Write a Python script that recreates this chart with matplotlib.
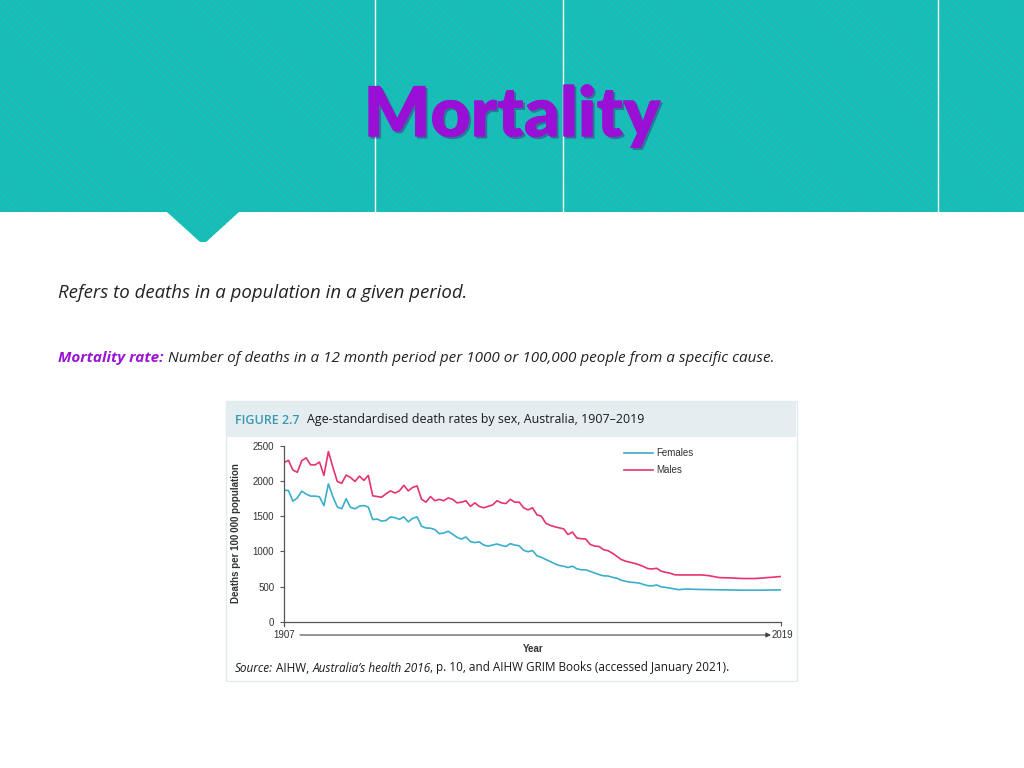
import numpy as np
import matplotlib
matplotlib.use('Agg')
import matplotlib.pyplot as plt
from matplotlib.patches import Rectangle, Polygon
import matplotlib.patheffects as pe

# ---------------- data ----------------
years = list(range(1907, 2020))
females = [
    1871, 1865, 1714, 1760, 1857, 1815, 1786, 1786, 1776, 1650,   # 1907-1916
    1960, 1780, 1634, 1605, 1748, 1625, 1605, 1643, 1652, 1630,   # 1917-1926
    1452, 1460, 1430, 1440, 1490, 1480, 1455, 1490, 1420, 1470,   # 1927-1936
    1490, 1357, 1333, 1330, 1310, 1252, 1260, 1286, 1245, 1200,   # 1937-1946
    1175, 1205, 1140, 1125, 1135, 1090, 1075, 1090, 1105, 1085,   # 1947-1956
    1070, 1110, 1090, 1080, 1015, 995, 1012, 938, 915, 885,       # 1957-1966
    855, 825, 800, 790, 770, 790, 752, 738, 738, 715,             # 1967-1976
    692, 670, 652, 650, 632, 619, 590, 574, 562, 557,             # 1977-1986
    550, 530, 512, 510, 522, 495, 488, 478, 465, 455,             # 1987-1996
    462, 465, 462, 460, 458, 457, 456, 455, 454, 453,             # 1997-2006
    452, 451, 450, 449, 448, 448, 448, 448, 449, 450,             # 2007-2016
    451, 452, 452,                                                # 2017-2019
]
males = [
    2263, 2295, 2157, 2125, 2290, 2330, 2230, 2230, 2270, 2080,   # 1907-1916
    2420, 2200, 1995, 1967, 2085, 2050, 1995, 2070, 2010, 2080,   # 1917-1926
    1790, 1780, 1770, 1820, 1860, 1830, 1860, 1940, 1860, 1910,   # 1927-1936
    1930, 1740, 1700, 1780, 1720, 1740, 1720, 1760, 1740, 1690,   # 1937-1946
    1700, 1720, 1640, 1690, 1640, 1620, 1640, 1660, 1720, 1690,   # 1947-1956
    1680, 1740, 1700, 1700, 1620, 1590, 1620, 1520, 1500, 1400,   # 1957-1966
    1370, 1350, 1335, 1320, 1240, 1275, 1190, 1180, 1175, 1100,   # 1967-1976
    1075, 1070, 1025, 1010, 975, 930, 885, 860, 845, 830,         # 1977-1986
    810, 785, 755, 750, 760, 718, 702, 690, 668, 665,             # 1987-1996
    665, 665, 665, 665, 665, 660, 652, 640, 628, 625,             # 1997-2006
    624, 622, 618, 615, 614, 614, 614, 618, 622, 628,             # 2007-2016
    632, 638, 643,                                                # 2017-2019
]
series_labels = ['Females', 'Males']
y_ticks = [0, 500, 1000, 1500, 2000, 2500]
x_end_labels = ['1907', '2019']

slide_title = 'Mortality'
intro_text = 'Refers to deaths in a population in a given period.'
def_term = 'Mortality rate:'
def_text = ' Number of deaths in a 12 month period per 1000 or 100,000 people from a specific cause.'
fig_num = 'FIGURE 2.7'
fig_title = 'Age-standardised death rates by sex, Australia, 1907\u20132019'
y_label = 'Deaths per 100\u2009000 population'
x_label = 'Year'

# ---------------- figure ----------------
fig = plt.figure(figsize=(10.24, 7.68), dpi=100)
fig.patch.set_facecolor('white')
bg = fig.add_axes([0, 0, 1, 1])
bg.set_xlim(0, 1024)
bg.set_ylim(768, 0)
bg.axis('off')

teal = '#10c3b4'
stripe = '#26b4bb'
header = Rectangle((0, 0), 1024, 212, facecolor=teal, edgecolor='none', zorder=1)
notch = Polygon([(166, 211), (240, 211), (206, 242), (200, 242)],
                closed=True, facecolor=teal, edgecolor='none', zorder=1)
bg.add_patch(header)
bg.add_patch(notch)
# diagonal stripe texture
step = 6.5
for clip in (header, notch):
    for x0 in np.arange(-260, 1030, step):
        ln, = bg.plot([x0, x0 + 260], [0, 260], color=stripe, lw=1.3,
                      solid_capstyle='butt', zorder=1.5)
        ln.set_clip_path(clip)
for xv in (375, 563, 938):
    bg.plot([xv, xv], [0, 212], color='white', lw=1.0, zorder=2)

bg.text(512, 117, slide_title, ha='center', va='center', fontsize=50,
        fontweight='heavy', family='Lato', color='#9a0fd6', zorder=3,
        path_effects=[pe.withSimplePatchShadow(offset=(1.5, -1.5),
                                               shadow_rgbFace='#4a0a70', alpha=0.4),
                      pe.Normal()])

renderer = fig.canvas.get_renderer()

def seq(x, y, parts, **common):
    for s, kw in parts:
        t = bg.text(x, y, s, **common, **kw)
        bb = t.get_window_extent(renderer)
        x = bb.x1
    return x

bg.text(58, 293, intro_text, ha='left', va='center', fontsize=13.4,
        style='italic', family='Open Sans', color='#222222')

seq(58, 358, [(def_term, dict(color='#9a14d4', fontweight='bold')),
              (def_text, dict(color='#222222'))],
    ha='left', va='center', fontsize=10.95, style='italic', family='Open Sans')

# panel
bg.add_patch(Rectangle((226, 401), 571, 280, facecolor='white',
                       edgecolor='#e3eaec', lw=1.0, zorder=1))
bg.add_patch(Rectangle((227, 402), 569, 35, facecolor='#e4eef1',
                       edgecolor='none', zorder=1))
bg.text(235, 420, fig_num, ha='left', va='center', fontsize=9,
        family='Open Sans', color='#3b98b3', fontweight='semibold')
bg.text(307, 420, fig_title, ha='left', va='center', fontsize=8.9,
        family='Open Sans', color='#1a1a1a')

# chart axes
px_per_unit = (621.7 - 445.9) / 2500.0
ymin = -60
bottom_px = 621.7 - ymin * px_per_unit
top_px = 445.9
ax = fig.add_axes([284 / 1024, (768 - bottom_px) / 768, 497 / 1024,
                   (bottom_px - top_px) / 768])
ax.patch.set_alpha(0)
ax.set_xlim(years[0], years[-1])
ax.set_ylim(ymin, 2500)
ax.plot(years, females, color='#3aaecb', lw=1.2, label=series_labels[0])
ax.plot(years, males, color='#e5336f', lw=1.2, label=series_labels[1])
ax.spines['top'].set_visible(False)
ax.spines['right'].set_visible(False)
ax.spines['bottom'].set_position(('data', 0))
for s in ('left', 'bottom'):
    ax.spines[s].set_color('#555555')
    ax.spines[s].set_linewidth(0.9)
ax.set_yticks(y_ticks)
ax.set_yticklabels([str(v) for v in y_ticks], family='Liberation Sans',
                   fontsize=7, color='#333333')
ax.set_xticks([years[-1]])
ax.set_xticklabels([''])
ax.tick_params(axis='both', direction='out', length=3, width=0.8,
               color='#555555', pad=4)

leg = ax.legend(loc='upper left', bbox_to_anchor=(624 / 1024, 1 - 448 / 768),
                bbox_transform=fig.transFigure, frameon=False,
                prop=dict(family='Liberation Sans', size=7),
                handlelength=3.0, handletextpad=0.35, labelspacing=0.75,
                borderaxespad=0, borderpad=0)
for t in leg.get_texts():
    t.set_color('#333333')

bg.text(236, 533, y_label, rotation=90, ha='center', va='center',
        fontsize=7, fontweight='bold', family='Liberation Sans', color='#333333')

# year arrow
bg.text(284, 635, x_end_labels[0], ha='center', va='center', fontsize=7,
        family='Liberation Sans', color='#333333')
bg.text(782, 635, x_end_labels[1], ha='center', va='center', fontsize=7,
        family='Liberation Sans', color='#333333')
bg.annotate('', xy=(771, 635), xytext=(300, 635),
            arrowprops=dict(arrowstyle='-|>', color='#444444', lw=0.8,
                            mutation_scale=7, shrinkA=0, shrinkB=0))
bg.text(533, 649, x_label, ha='center', va='center', fontsize=7,
        fontweight='bold', family='Liberation Sans', color='#333333')

seq(235, 668, [('Source:', dict(style='italic')),
               (' AIHW, ', dict()),
               ('Australia\u2019s health 2016', dict(style='italic')),
               (', p. 10, and AIHW GRIM Books (accessed January 2021).', dict())],
    ha='left', va='center', fontsize=8.5, family='Open Sans', color='#1a1a1a')

fig.savefig('out.png', dpi=100)
